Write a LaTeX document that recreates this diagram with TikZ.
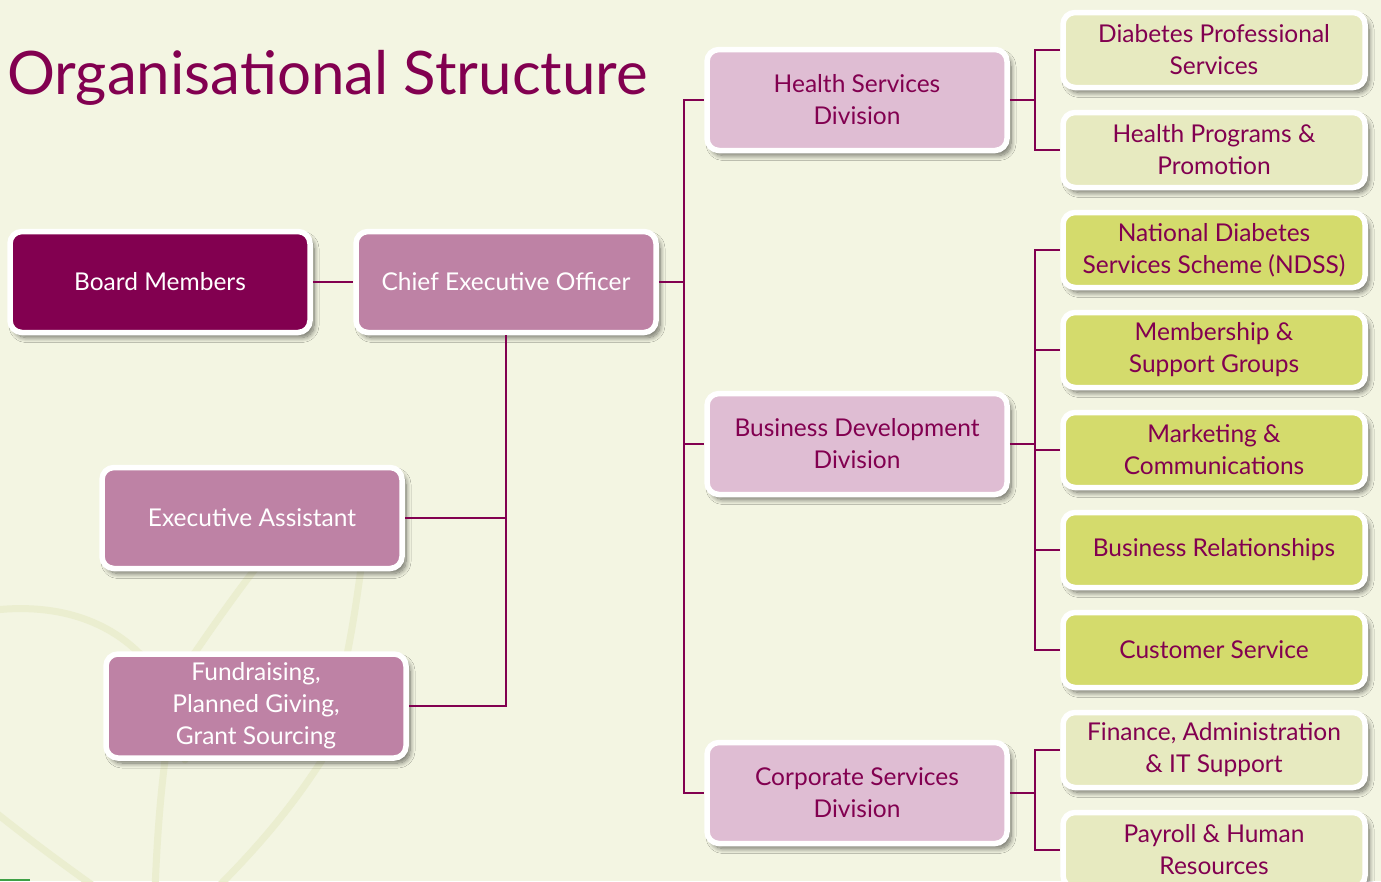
\documentclass[tikz,border=0pt]{standalone}
\usepackage{fontspec}
\setmainfont{Lato}
\usetikzlibrary{shadows.blur}
\definecolor{bgcream}{HTML}{F3F5E2}
\definecolor{swirl}{HTML}{EBEED0}
\definecolor{plum}{HTML}{820050}
\definecolor{mauve}{HTML}{BE82A5}
\definecolor{pinklight}{HTML}{DFBDD3}
\definecolor{limepale}{HTML}{E7EAC0}
\definecolor{limebright}{HTML}{D4DB6C}
\definecolor{leafgreen}{HTML}{3FA046}
\tikzset{
  box/.style={rectangle, rounded corners=12pt, draw=white, line width=5.5pt,
    align=center, inner sep=0pt,
    font=\fontsize{24.5}{32}\selectfont,
    blur shadow={shadow xshift=4pt, shadow yshift=-5pt, shadow blur steps=10,
      shadow blur radius=5pt, shadow opacity=55}},
  wide/.style={box, minimum width=300pt, minimum height=101pt},
  unit/.style={box, minimum width=302pt, minimum height=75pt},
  board/.style={wide, fill=plum, text=white},
  exec/.style={wide, fill=mauve, text=white},
  division/.style={wide, fill=pinklight, text=plum},
  teampale/.style={unit, fill=limepale, text=plum},
  teambright/.style={unit, fill=limebright, text=plum},
  link/.style={draw=plum, line width=2.8pt},
  swirlline/.style={draw=swirl, line width=7pt, line cap=round}
}
\begin{document}
\begin{tikzpicture}[x=1pt, y=-1pt]
  % page and background
  \fill[bgcream] (0,0) rectangle (1381,881);
  \useasboundingbox (0,0) rectangle (1381,881);
  % faint decorative swirls
  \draw[swirlline] (-5,610) .. controls (60,603) and (115,622) .. (150,665) .. controls (170,690) and (180,720) .. (185,760);
  \draw[swirlline] (150,720) .. controls (170,690) and (215,620) .. (262,560);
  \draw[swirlline] (362,560) .. controls (357,600) and (352,630) .. (346,660);
  \draw[swirlline] (165,760) .. controls (160,800) and (157,840) .. (155,890);
  \draw[swirlline] (322,760) .. controls (290,810) and (255,850) .. (215,890);
  \draw[swirlline] (-5,812) .. controls (30,840) and (60,862) .. (92,885);
  \draw[leafgreen, line width=2pt] (0,880) -- (30,880);

  % title
  \node[anchor=base west, text=plum, inner sep=0pt, font=\fontsize{60}{60}\selectfont] (title) at (7,94) {Organisational Structure};

  % left side
  \node[board] (bm) at (160,282) {Board Members};
  \node[exec] (ceo) at (506,282) {Chief Executive Officer};
  \node[exec] (ea) at (252,518) {Executive Assistant};
  \node[exec, minimum height=104pt] (fund) at (256,706) {Fundraising,\\Planned Giving,\\Grant Sourcing};

  % divisions
  \node[division] (hsd) at (857,100) {Health Services\\Division};
  \node[division] (bdd) at (857,444) {Business Development\\Division};
  \node[division] (csd) at (857,793) {Corporate Services\\Division};

  % teams
  \node[teampale] (dps) at (1214,50) {Diabetes Professional\\Services};
  \node[teampale] (hpp) at (1214,150) {Health Programs \&\\Promotion};
  \node[teambright] (ndss) at (1214,250) {National Diabetes\\Services Scheme (NDSS)};
  \node[teambright] (msg) at (1214,350) {Membership \&\\Support Groups};
  \node[teambright] (mc) at (1214,450) {Marketing \&\\Communications};
  \node[teambright] (br) at (1214,550) {Business Relationships};
  \node[teambright] (cs) at (1214,650) {Customer Service};
  \node[teampale] (fin) at (1214,750) {Finance, Administration\\\& IT Support};
  \node[teampale] (pay) at (1214,850) {Payroll \& Human\\Resources};

  % branch points
  \coordinate (trunk) at (684,282);
  \coordinate (hsdfork) at (1035,100);
  \coordinate (bddfork) at (1035,444);
  \coordinate (csdfork) at (1035,793);

  % connectors
  \draw[link] (bm.east) -- (ceo.west);
  \draw[link] (ceo.east) -- (trunk);
  \draw[link] (trunk) |- (hsd.west);
  \draw[link] (trunk) |- (bdd.west);
  \draw[link] (trunk) |- (csd.west);
  \draw[link] (ceo.south) |- (ea.east);
  \draw[link] (ceo.south) |- (fund.east);

  \draw[link] (hsd.east) -- (hsdfork);
  \draw[link] (hsdfork) |- (dps.west);
  \draw[link] (hsdfork) |- (hpp.west);

  \draw[link] (bdd.east) -- (bddfork);
  \foreach \t in {ndss,msg,mc,br,cs} \draw[link] (bddfork) |- (\t.west);

  \draw[link] (csd.east) -- (csdfork);
  \draw[link] (csdfork) |- (fin.west);
  \draw[link] (csdfork) |- (pay.west);
\end{tikzpicture}
\end{document}
